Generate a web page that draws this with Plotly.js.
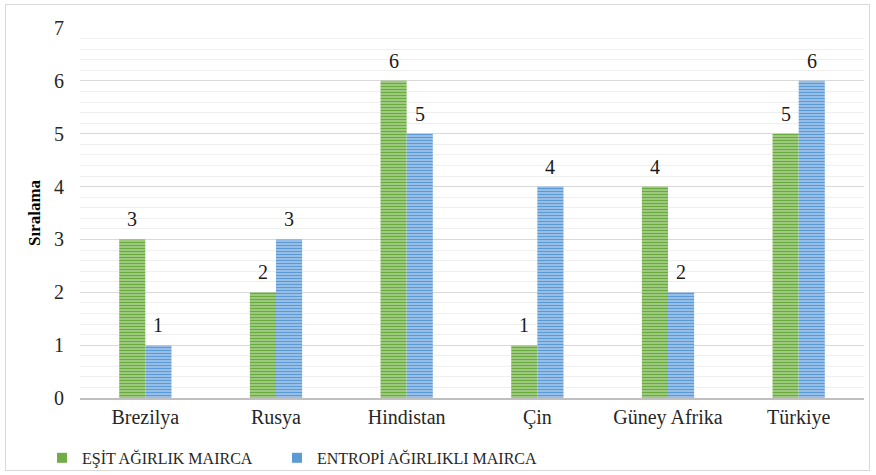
<!DOCTYPE html>
<html><head><meta charset="utf-8">
<script src="https://cdn.plot.ly/plotly-3.0.1.min.js"></script>
<style>
body{margin:0;padding:0;background:#fff;}
#wrap{position:relative;width:876px;height:475px;}
#chart{position:absolute;left:0;top:0;width:876px;height:475px;}
#frame{position:absolute;left:5px;top:4px;width:863px;height:465px;border:1.5px solid #d9d9d9;pointer-events:none;}
</style></head>
<body>
<div id="wrap"><div id="chart"></div><div id="frame"></div></div>
<script>
const categories = ['Brezilya','Rusya','Hindistan','Çin','Güney Afrika','Türkiye'];
const esitValues = [3,2,6,1,4,5];
const entropiValues = [1,3,5,4,2,6];
const seriesNames = ['EŞİT AĞIRLIK MAIRCA','ENTROPİ AĞIRLIKLI MAIRCA'];
const yTicks = [0,1,2,3,4,5,6,7];

const font = 'Liberation Serif';
function barTrace(vals, fg, bg){
  return {
    type:'bar', x:categories, y:vals, showlegend:false,
    marker:{color:bg, line:{width:0},
      pattern:{shape:'-', size:3, solidity:0.45, fgcolor:fg, bgcolor:bg, fillmode:'replace'}},
    hoverinfo:'skip'
  };
}
const data = [
  barTrace(esitValues,'#6aab3e','#a8d08d'),
  barTrace(entropiValues,'#5b9bd5','#a3c6ea'),
  {type:'scatter', x:[null], y:[null], mode:'markers', name:seriesNames[0], legend:'legend',
   marker:{symbol:'square', size:10, color:'#70ad47'}},
  {type:'scatter', x:[null], y:[null], mode:'markers', name:seriesNames[1], legend:'legend2',
   marker:{symbol:'square', size:10, color:'#5b9bd5'}}
];
const annotations = [];
[[esitValues,-13],[entropiValues,13]].forEach(([vals,dx])=>{
  vals.forEach((v,i)=>annotations.push({x:categories[i], y:v, xref:'x', yref:'y', text:String(v),
    showarrow:false, xshift:dx, yshift:7, yanchor:'bottom',
    font:{family:font, size:20, color:'#1a1a1a'}}));
});
const legendBase = {orientation:'h', xanchor:'left', xref:'container', y:0.036, yref:'container', yanchor:'middle',
    font:{family:font, size:16, color:'#262626'}, itemwidth:30, bgcolor:'rgba(0,0,0,0)'};
const layout = {
  width:876, height:475,
  margin:{l:80, r:12, t:28, b:77},
  paper_bgcolor:'#fff', plot_bgcolor:'#fff',
  font:{family:font, color:'#262626'},
  barmode:'group', bargap:0.6, bargroupgap:0,
  showlegend:true,
  annotations:annotations,
  legend:Object.assign({}, legendBase, {x:42/876}),
  legend2:Object.assign({}, legendBase, {x:277/876}),
  xaxis:{type:'category', showgrid:false, showline:true, linecolor:'#bfbfbf', linewidth:1.5,
    ticks:'', tickfont:{family:font, size:20, color:'#262626'}, automargin:false},
  yaxis:{range:[0,7], tickvals:yTicks, ticktext:yTicks.map(String), showgrid:true, gridcolor:'#d9d9d9', gridwidth:1,
    zeroline:false, showline:false, ticks:'', ticklen:0, ticklabelstandoff:15,
    tickfont:{family:font, size:20, color:'#262626'},
    minor:{dtick:0.2, tick0:0, showgrid:true, gridcolor:'#efefef', gridwidth:1, ticks:''},
    title:{text:'<b>Sıralama</b>', font:{family:font, size:17, color:'#000'}, standoff:9},
    automargin:false}
};
Plotly.newPlot('chart', data, layout, {displayModeBar:false, staticPlot:true});
</script>
</body></html>
